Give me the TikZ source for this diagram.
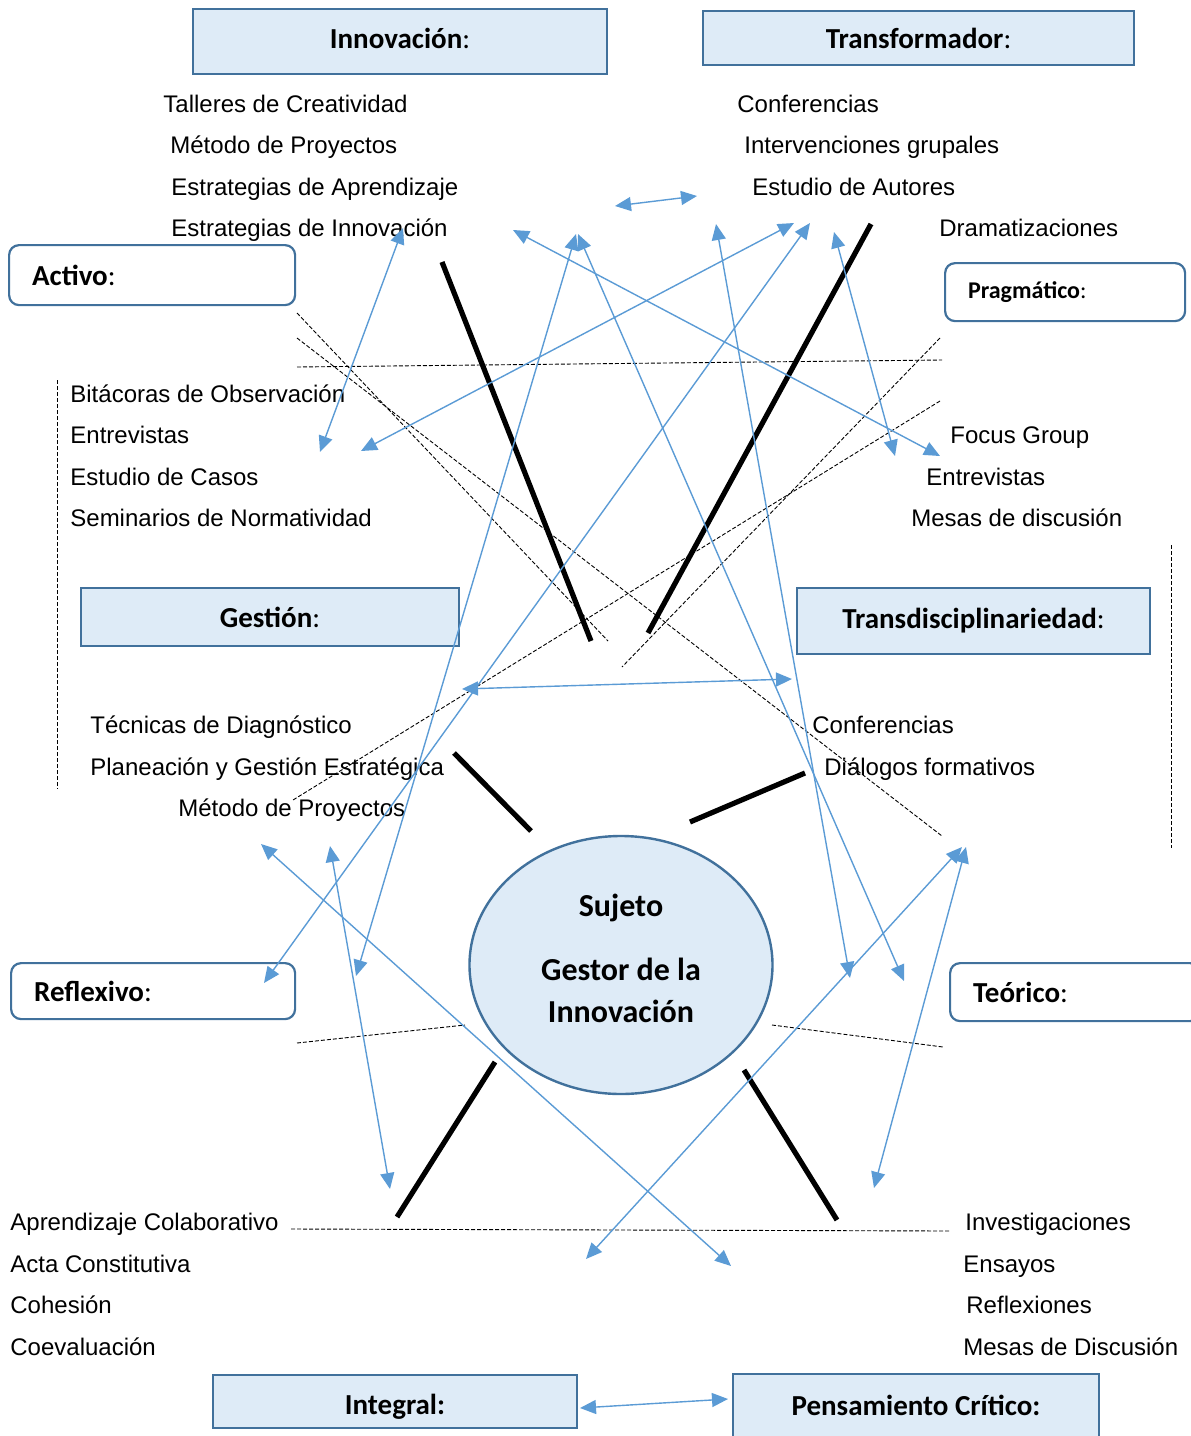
\documentclass[tikz,border=0pt]{standalone}
\usepackage{fontspec}
\setmainfont{Liberation Sans}
\newfontfamily\calibri{Carlito}
\usetikzlibrary{arrows.meta,shapes.geometric}
\definecolor{relleno}{HTML}{DEEBF7}
\definecolor{borde}{HTML}{41719C}
\definecolor{azul}{HTML}{5B9BD5}

\begin{document}
\begin{tikzpicture}[x=0.5pt, y=-0.5pt, font=\fontsize{12}{14}\selectfont,
  caja/.style={draw=borde, line width=1.2pt, fill=relleno, inner sep=0pt,
    font=\calibri\fontsize{14.5}{17}\selectfont},
  rasgo/.style={draw=borde, line width=1.1pt, fill=white, rounded corners=5pt,
    inner xsep=11.5pt, inner ysep=0pt, align=left, anchor=north west,
    font=\calibri\fontsize{14.5}{17}\selectfont},
  texto/.style={anchor=base west, inner sep=0pt},
  flecha/.style={azul, line width=0.7pt,
    {Triangle[length=8pt,width=7pt]}-{Triangle[length=8pt,width=7pt]}},
  guion/.style={black, line width=0.45pt, dash pattern=on 2pt off 1pt},
  trazo/.style={black, line width=2.6pt}]
  \useasboundingbox (0,0) rectangle (1190,1436);
  %% Cajas de las dimensiones
  \node[caja, minimum width=207pt, minimum height=32.5pt, text depth=3pt] (innovacion) at (400,41.5) {\textbf{Innovación}:};
  \node[caja, minimum width=215.5pt, minimum height=27pt] (transformador) at (918.5,38) {\textbf{Transformador}:};
  \node[caja, minimum width=189pt, minimum height=29pt] (gestion) at (270,617) {\textbf{Gestión}:};
  \node[caja, minimum width=176.5pt, minimum height=33pt] (transdisciplina) at (973.5,621) {\textbf{Transdisciplinariedad}:};
  \node[caja, minimum width=182pt, minimum height=26.5pt, text height=15pt] (integral) at (395,1401.5) {\textbf{Integral:}};
  \node[caja, minimum width=183pt, minimum height=34pt, text depth=3pt] (pensamiento) at (916,1408) {\textbf{Pensamiento Crítico:}};
  %% Rasgos (cajas redondeadas)
  \node[rasgo, minimum height=30pt, text width=120pt] (activo) at (8,244) {\textbf{Activo}:};
  \node[rasgo, minimum height=29pt, text width=97pt, font=\calibri\fontsize{12}{14}\selectfont] (pragmatico) at (944,262) {\textbf{Pragmático}:};
  \node[rasgo, minimum height=28pt, text width=119pt] (reflexivo) at (10,962) {\textbf{Reflexivo}:};
  \node[rasgo, minimum height=29pt, text width=102pt] (teorico) at (949,962) {\textbf{Teórico}:};
  %% Listas de estrategias
  \foreach \x/\y/\t [count=\k] in {163/104/Talleres de Creatividad, 170/145/Método de Proyectos,
      171/187/Estrategias de Aprendizaje, 171/228/Estrategias de Innovación}
    \node[texto] (inn\k) at (\x,\y+8) {\t};
  \foreach \x/\y/\t [count=\k] in {737/104/Conferencias, 744/145/Intervenciones grupales,
      752/187/Estudio de Autores, 939/228/Dramatizaciones}
    \node[texto] (tra\k) at (\x,\y+8) {\t};
  \foreach \x/\y/\t [count=\k] in {70/394/Bitácoras de Observación, 70/435/Entrevistas,
      70/477/Estudio de Casos, 70/518/Seminarios de Normatividad}
    \node[texto] (act\k) at (\x,\y+8) {\t};
  \foreach \x/\y/\t [count=\k] in {950/435/Focus Group, 926/477/Entrevistas, 911/518/Mesas de discusión}
    \node[texto] (pra\k) at (\x,\y+8) {\t};
  \foreach \x/\y/\t [count=\k] in {90/725/Técnicas de Diagnóstico, 90/767/Planeación y Gestión Estratégica,
      178/808/Método de Proyectos}
    \node[texto] (ges\k) at (\x,\y+8) {\t};
  \foreach \x/\y/\t [count=\k] in {812/725/Conferencias, 824/767/Diálogos formativos}
    \node[texto] (trd\k) at (\x,\y+8) {\t};
  \foreach \x/\y/\t [count=\k] in {10/1222/Aprendizaje Colaborativo, 10/1264/Acta Constitutiva,
      10/1305/Cohesión, 10/1347/Coevaluación}
    \node[texto] (int\k) at (\x,\y+8) {\t};
  \foreach \x/\y/\t [count=\k] in {965/1222/Investigaciones, 963/1264/Ensayos,
      966/1305/Reflexiones, 963/1347/Mesas de Discusión}
    \node[texto] (pen\k) at (\x,\y+8) {\t};
  %% Lineas punteadas
  \draw[guion] (57,380) -- (57,789);
  \draw[guion] (1171,545) -- (1171,848);
  \foreach \xa/\ya/\xb/\yb in {297/313/608/641, 297/338/942/836, 297/367/942/360,
      940/338/622/667, 940/401/293/800, 297/1043/465/1025, 772/1025/943/1047, 291/1229/950/1231}
    \draw[guion] (\xa,\ya) -- (\xb,\yb);
  %% Trazos gruesos
  \foreach \xa/\ya/\xb/\yb in {442/262/591/641, 871/224/648/633, 454/753/531/831,
      690/822/805/773, 495/1062/397/1217, 744/1070/837/1220}
    \draw[trazo] (\xa,\ya) -- (\xb,\yb);
  %% Extremos de las flechas
  \foreach \n/\x/\y in {a1/615/206, a2/697/196, b1/580/1408, b2/728/1399, c1/462/689, c2/792/679,
      d1/403/228, d2/320/452, e1/361/451, e2/794/223, f1/513/230, f2/940/456,
      g1/576/234, g2/356/976, h1/578/234, h2/904/981, i1/716/224, i2/850/978,
      j1/810/223, j2/264/983, k1/834/232, k2/895/456, l1/261/844, l2/731/1266,
      m1/330/846, m2/390/1189, n1/962/847, n2/586/1259, o1/966/847, o2/874/1188}
    \coordinate (\n) at (\x,\y);
  \foreach \p in {a,b,c,d,e,f,g,h,i,j,k,l,m,n,o}
    \draw[flecha] (\p1) -- (\p2);
  %% Sujeto al centro
  \node[ellipse, draw=borde, line width=1.2pt, fill=relleno, minimum width=151.5pt,
    minimum height=129pt, inner sep=0pt, align=center, text depth=7pt,
    font=\calibri\bfseries\fontsize{16}{21}\selectfont] (sujeto) at (621,965)
    {Sujeto\\[11pt]Gestor de la\\Innovación};
\end{tikzpicture}
\end{document}
